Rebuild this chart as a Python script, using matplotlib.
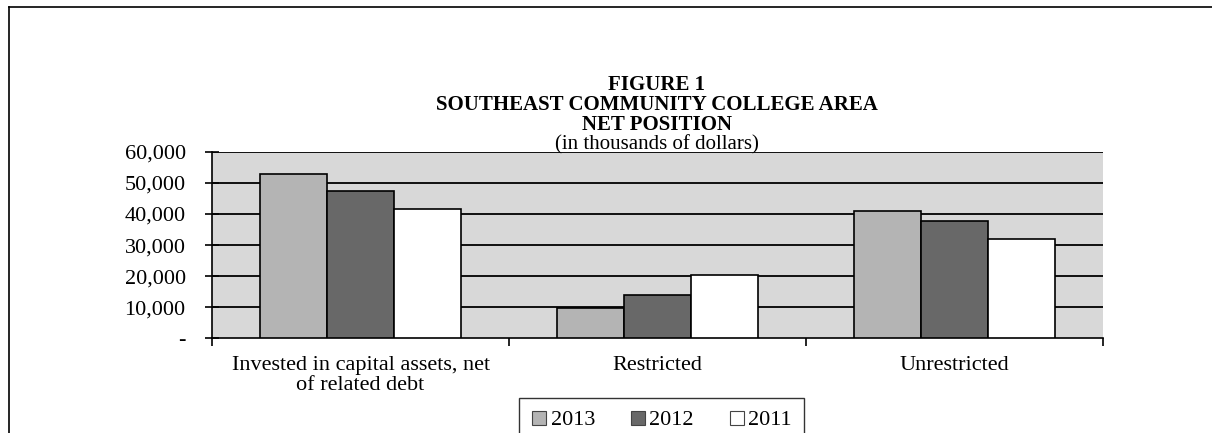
import matplotlib.pyplot as plt
import matplotlib.lines as mlines
import numpy as np

# data (thousands of dollars)
categories = ['Invested in capital assets, net\nof related debt', 'Restricted', 'Unrestricted']
years = ['2013', '2012', '2011']
values_2013 = [52900, 9700, 41000]
values_2012 = [47400, 13900, 37700]
values_2011 = [41600, 20400, 31900]
yticks = [0, 10000, 20000, 30000, 40000, 50000, 60000]
ytick_labels = ['-', '10,000', '20,000', '30,000', '40,000', '50,000', '60,000']

colors = ['#b4b4b4', '#686868', '#ffffff']
series = [values_2013, values_2012, values_2011]

plt.rcParams['font.family'] = ['Liberation Serif', 'DejaVu Serif']

fig = plt.figure(figsize=(12.12, 4.33), dpi=100)
ax = fig.add_axes([0.175, 0.219, 0.735, 0.43])
ax.set_facecolor('#d8d8d8')

# gridlines
for y in yticks[1:]:
    ax.axhline(y, color='black', lw=1.3, zorder=1)

width = 0.225
x = np.arange(len(categories)) + 0.5
for i, (vals, c) in enumerate(zip(series, colors)):
    ax.bar(x + (i - 1) * width, vals, width, color=c, edgecolor='black',
           linewidth=1.2, zorder=3, label=years[i])

ax.set_xlim(0, 3)
ax.set_ylim(0, 60000)
ax.set_yticks(yticks)
ax.set_yticklabels(ytick_labels, fontsize=16)
ax.tick_params(axis='y', direction='inout', length=10, width=1.2, pad=14)

ax.set_xticks([0, 1, 2, 3])
ax.set_xticklabels([])
ax.tick_params(axis='x', direction='out', length=6, width=1.2)
for xi, lab in zip(x, categories):
    ax.text(xi, -5800, lab, ha='center', va='top', fontsize=16,
            linespacing=1.05, transform=ax.transData)

for s in ['top', 'right']:
    ax.spines[s].set_visible(False)
ax.spines['left'].set_linewidth(1.2)
ax.spines['bottom'].set_linewidth(1.2)

# title block
title_lines = ['FIGURE 1', 'SOUTHEAST COMMUNITY COLLEGE AREA', 'NET POSITION']
for k, t in enumerate(title_lines):
    fig.text(0.542, 1 - (85 + 20 * k) / 433, t, ha='center', va='center',
             fontsize=15, fontweight='bold')
fig.text(0.542, 1 - 145 / 433, '(in thousands of dollars)', ha='center',
         va='center', fontsize=15)

# legend
handles = [mlines.Line2D([], [], marker='s', ls='none', markersize=10,
                         markerfacecolor=c, markeredgecolor='#444444',
                         markeredgewidth=0.8, label=y)
           for c, y in zip(colors, years)]
leg = fig.legend(handles=handles, loc='lower center', ncol=3,
                 bbox_to_anchor=(0.546, -0.048), frameon=True, fancybox=False,
                 edgecolor='black', fontsize=16, handlelength=0.7,
                 handletextpad=0.15, columnspacing=1.6, borderpad=0.55)
leg.get_frame().set_linewidth(1.0)

# page frame (top and left)
fig.add_artist(mlines.Line2D([9 / 1212, 1], [1 - 7 / 433, 1 - 7 / 433],
                             color='black', lw=1.2, transform=fig.transFigure))
fig.add_artist(mlines.Line2D([9 / 1212, 9 / 1212], [0, 1 - 7 / 433],
                             color='black', lw=1.2, transform=fig.transFigure))

fig.savefig('out.png', dpi=100)
